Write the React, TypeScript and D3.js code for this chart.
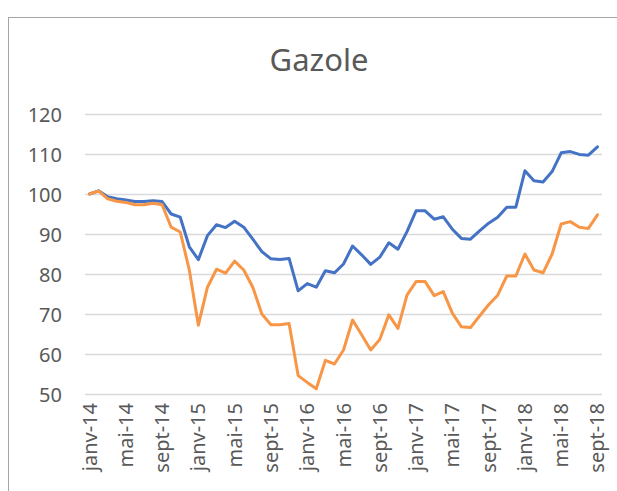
import React, { useEffect, useRef } from "react";
import * as d3 from "d3";

// French month abbreviations and years covered (janv-14 .. sept-18)
const monthNames = ["janv", "févr", "mars", "avr", "mai", "juin", "juil", "août", "sept", "oct", "nov", "déc"];
const years = ["14", "15", "16", "17", "18"];
const categories: string[] = [];
years.forEach(y => monthNames.forEach(m => categories.push(`${m}-${y}`)));
categories.splice(categories.indexOf("sept-18") + 1);

const tickLabels = categories.filter((_, i) => i % 4 === 0);
const yTicks = [50, 60, 70, 80, 90, 100, 110, 120];

// blue line
const seriesA = [
  100, 100.8, 99.3, 98.8, 98.5, 98.1, 98.1, 98.3, 98.1, 95, 94.2, 86.8,
  83.6, 89.6, 92.3, 91.6, 93.2, 91.7, 88.7, 85.6, 83.8, 83.6, 83.9, 75.8,
  77.6, 76.7, 80.8, 80.3, 82.5, 87, 84.8, 82.4, 84.2, 87.8, 86.2, 90.6,
  95.8, 95.8, 93.7, 94.3, 91.2, 88.9, 88.7, 90.8, 92.7, 94.2, 96.7, 96.7,
  105.8, 103.3, 103, 105.6, 110.3, 110.6, 109.9, 109.7, 111.8,
];

// orange line
const seriesB = [
  100, 100.8, 98.8, 98.2, 97.9, 97.3, 97.3, 97.7, 97.3, 91.7, 90.5, 81,
  67.2, 76.7, 81.2, 80.2, 83.2, 81, 76.7, 70, 67.3, 67.3, 67.6, 54.6,
  52.9, 51.3, 58.4, 57.5, 61, 68.5, 64.8, 61, 63.6, 69.8, 66.4, 74.7,
  78.1, 78.1, 74.6, 75.6, 70.2, 66.8, 66.6, 69.5, 72.3, 74.7, 79.5, 79.5,
  85, 81, 80.3, 85, 92.5, 93.1, 91.7, 91.4, 94.8,
];

const FONT = "'Noto Sans', 'Open Sans', sans-serif";

export default function App() {
  const ref = useRef<SVGSVGElement>(null);

  useEffect(() => {
    const node = ref.current;
    if (!node) return;
    const w = 617;
    const h = 491;
    const m = { t: 114, r: 15, b: 97, l: 85 };

    const svg = d3.select(node);
    svg.selectAll("*").remove();

    svg.append("rect").attr("width", w).attr("height", h).attr("fill", "#fff");

    // chart frame (cut off at right and bottom)
    svg.append("rect")
      .attr("x", 8.5).attr("y", 17.5)
      .attr("width", w + 10).attr("height", h + 10)
      .attr("fill", "none").attr("stroke", "#a6a6a6").attr("stroke-width", 1);

    svg.append("text")
      .attr("x", 319).attr("y", 71)
      .attr("text-anchor", "middle")
      .attr("font-family", FONT).attr("font-size", 31)
      .attr("fill", "#595959")
      .text("Gazole");

    const x = d3.scalePoint<string>().domain(categories).range([m.l, w - m.r]).padding(0.5);
    const y = d3.scaleLinear().domain([50, 120]).range([h - m.b, m.t]);

    // gridlines + y labels
    const ya = svg.append("g")
      .attr("transform", `translate(${m.l},0)`)
      .call(d3.axisLeft(y).tickValues(yTicks).tickSize(-(w - m.r - m.l)).tickPadding(23));
    ya.select(".domain").remove();
    ya.selectAll("line").attr("stroke", "#d9d9d9").attr("stroke-width", 1.3);
    ya.selectAll("text")
      .attr("font-family", FONT).attr("font-size", 20)
      .attr("fill", "#595959").attr("dy", "0.37em");

    // x labels, rotated
    svg.append("g")
      .selectAll("text")
      .data(tickLabels)
      .enter()
      .append("text")
      .attr("transform", d => `translate(${x(d)},${h - m.b + 9}) rotate(-90)`)
      .attr("text-anchor", "end")
      .attr("dy", "0.35em")
      .attr("font-family", FONT).attr("font-size", 20)
      .attr("fill", "#595959")
      .text(d => d);

    const line = d3.line<number>()
      .x((_, i) => x(categories[i]) as number)
      .y(d => y(d));

    [
      { data: seriesA, color: "#4472c4" },
      { data: seriesB, color: "#f79646" },
    ].forEach(s => {
      svg.append("path")
        .datum(s.data)
        .attr("d", line)
        .attr("fill", "none")
        .attr("stroke", s.color)
        .attr("stroke-width", 3)
        .attr("stroke-linejoin", "round")
        .attr("stroke-linecap", "round");
    });
  }, []);

  return (
    <svg
      ref={ref}
      width={617}
      height={491}
      style={{ position: "absolute", left: 0, top: 0, display: "block" }}
    />
  );
}
